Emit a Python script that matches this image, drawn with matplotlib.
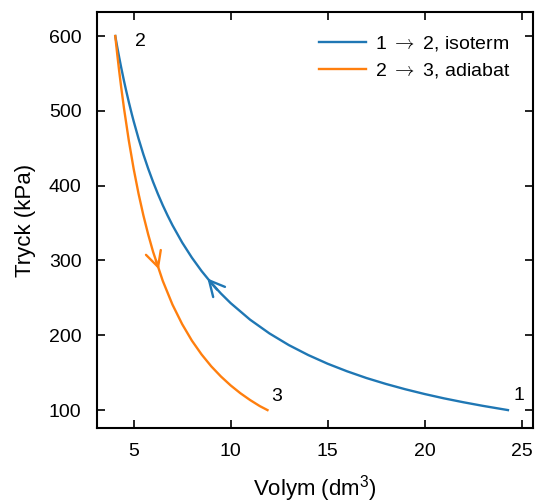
import matplotlib
matplotlib.use("Agg")
import matplotlib.pyplot as plt

plt.rcParams['font.family'] = ['Liberation Sans', 'DejaVu Sans']
plt.rcParams['mathtext.fontset'] = 'custom'
plt.rcParams['mathtext.rm'] = 'Liberation Sans'
plt.rcParams['mathtext.it'] = 'Liberation Sans:italic'

# Isotherm 1 -> 2 (V in dm3, P in kPa)
iso_V = [24.3, 23, 22, 21, 20, 19, 18, 17, 16, 15, 14, 13, 12, 11, 10, 9.5, 9, 8.5,
         8, 7.5, 7, 6.75, 6.5, 6.25, 6, 5.75, 5.5, 5.25, 5, 4.9, 4.75, 4.6, 4.5, 4.35,
         4.25, 4.15, 4.05]
iso_P = [100, 105.7, 110.5, 115.7, 121.5, 127.9, 135, 142.9, 151.9, 162, 173.6, 186.9,
         202.5, 220.9, 243, 255.8, 270, 285.9, 303.8, 324, 347.1, 360.0, 373.8, 388.8,
         405, 422.6, 441.8, 462.9, 486, 495.9, 511.6, 528.3, 540, 558.6, 571.8, 585.5,
         600]

# Adiabat 2 -> 3
adi_V = [4.05, 4.15, 4.25, 4.35, 4.5, 4.75, 5, 5.25, 5.5, 5.75, 6, 6.5, 7, 7.5, 8,
         8.5, 9, 9.5, 10, 10.5, 11, 11.5, 11.9]
adi_P = [600, 576.1, 553.6, 532.6, 503.4, 460.0, 422.3, 389.3, 360.3, 334.6, 311.6,
         272.7, 241.0, 214.9, 192.9, 174.4, 158.5, 144.9, 133.0, 122.6, 113.5, 105.4,
         100]

labels = [r"1 $\rightarrow$ 2, isoterm", r"2 $\rightarrow$ 3, adiabat"]
point_names = ["1", "2", "3"]
point_pos = [(24.85, 120), (5.35, 593), (12.35, 118)]

iso_arrow = [(9.3, 261), (8.8, 276)]
adi_arrow = [(6.15, 300), (6.3, 288)]

c_iso = '#1f77b4'
c_adi = '#ff7f0e'

fig = plt.figure(figsize=(5.38, 5.03), dpi=100)
ax = fig.add_axes([0.180, 0.149, 0.811, 0.827])

ax.plot(iso_V, iso_P, color=c_iso, lw=1.7, label=labels[0])
ax.plot(adi_V, adi_P, color=c_adi, lw=1.7, label=labels[1])

for (xt, xy), c in [((iso_arrow[0], iso_arrow[1]), c_iso), ((adi_arrow[0], adi_arrow[1]), c_adi)]:
    ax.annotate('', xy=xy, xytext=xt,
                arrowprops=dict(arrowstyle='->,head_length=0.55,head_width=0.28',
                                color=c, lw=1.7, shrinkA=0, shrinkB=0,
                                mutation_scale=20))

for name, (x, y) in zip(point_names, point_pos):
    ax.text(x, y, name, fontsize=14, ha='center', va='center')

ax.set_xlim(3.1, 25.6)
ax.set_ylim(76, 632)
ax.set_xticks([5, 10, 15, 20, 25])
ax.set_yticks([100, 200, 300, 400, 500, 600])
ax.tick_params(direction='in', top=True, right=True, length=6, width=1.2, labelsize=14, pad=11)
for s in ax.spines.values():
    s.set_linewidth(1.5)

ax.set_xlabel('Volym (dm$^3$)', fontsize=16, labelpad=9)
ax.set_ylabel('Tryck (kPa)', fontsize=16, labelpad=9)

ax.legend(loc='upper right', frameon=False, handlelength=2.4, handletextpad=0.5,
          borderaxespad=0.75, labelspacing=0.38,
          prop={'family': ['Liberation Sans', 'DejaVu Sans'], 'size': 14,
                'math_fontfamily': 'cm'})

fig.savefig('out.png', dpi=100)
